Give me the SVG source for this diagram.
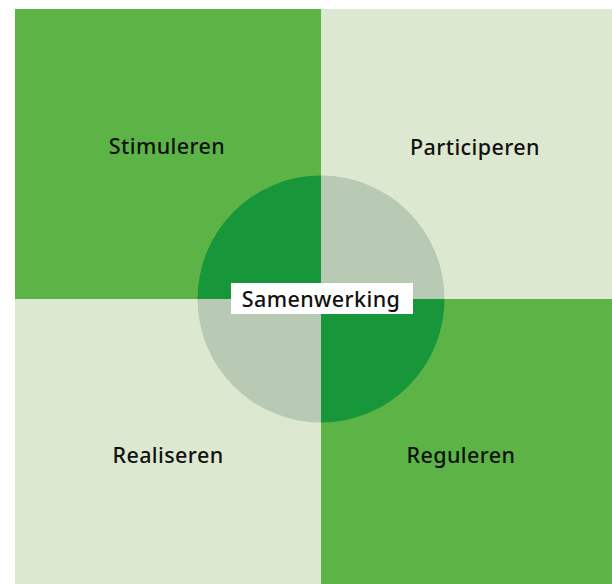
<svg xmlns="http://www.w3.org/2000/svg" width="612" height="584" viewBox="0 0 612 584">
<style>
.lbl{font-family:"Noto Sans","Liberation Sans",sans-serif;font-size:21.5px;font-weight:500;letter-spacing:0.4px;fill:#111;text-anchor:middle;dominant-baseline:central}
</style>
<rect width="612" height="584" fill="#ffffff"/>
<g id="stimuleren"><rect x="15" y="9" width="306" height="290" fill="#5cb446"/><text class="lbl" x="167" y="145">Stimuleren</text></g>
<g id="participeren"><rect x="321" y="9" width="291" height="290" fill="#dde8d0"/><text class="lbl" x="475" y="146">Participeren</text></g>
<g id="realiseren"><rect x="15" y="299" width="306" height="285" fill="#dde8d0"/><text class="lbl" x="168" y="454">Realiseren</text></g>
<g id="reguleren"><rect x="321" y="299" width="291" height="285" fill="#5cb446"/><text class="lbl" x="461" y="454">Reguleren</text></g>
<g id="samenwerking">
<path d="M321,299 L321,175.5 A123.5,123.5 0 0 0 197.5,299 Z" fill="#18963a"/>
<path d="M321,299 L444.5,299 A123.5,123.5 0 0 0 321,175.5 Z" fill="#b8c9b4"/>
<path d="M321,299 L197.5,299 A123.5,123.5 0 0 0 321,422.5 Z" fill="#b8c9b4"/>
<path d="M321,299 L321,422.5 A123.5,123.5 0 0 0 444.5,299 Z" fill="#18963a"/>
<rect x="231" y="283" width="182" height="31" fill="#ffffff"/>
<text class="lbl" x="321" y="298">Samenwerking</text>
</g>
<g id="connectors"/>
</svg>
